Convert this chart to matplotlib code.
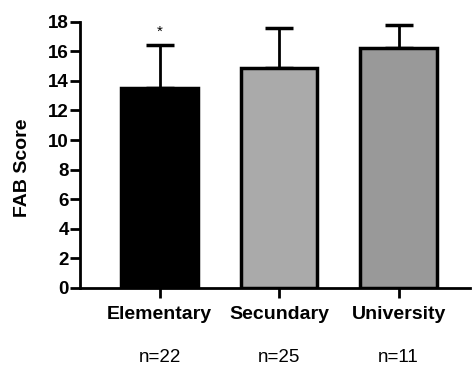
import matplotlib.pyplot as plt

groups = ["Elementary", "Secundary", "University"]
counts = [22, 25, 11]
means = [13.55, 14.9, 16.2]
sds = [2.9, 2.65, 1.55]
colors = ["#000000", "#aaaaaa", "#999999"]

plt.rcParams['font.family'] = ['Liberation Sans', 'DejaVu Sans']

fig = plt.figure(figsize=(4.76, 3.65), dpi=100)
ax = fig.add_axes([0.168, 0.211, 0.82, 0.7295])

x = list(range(len(groups)))
ax.bar(x, means, width=0.64, color=colors, edgecolor="black", linewidth=2.5, zorder=2)
ax.errorbar(x, means, yerr=[[0] * len(sds), sds], fmt="none", ecolor="black",
            elinewidth=2, capsize=10, capthick=2.5, zorder=1)

# significance marker over the first group
ax.text(0, means[0] + sds[0] + 0.4, "*", ha="center", va="bottom", fontsize=11)

ax.set_xlim(-0.667, 2.6)
ax.set_ylim(0, 18)
ax.set_yticks(range(0, 19, 2))
ax.set_xticks(x)
ax.set_xticklabels(groups, fontweight="bold", fontsize=14)

# group sizes under the category names
for xi, n in zip(x, counts):
    ax.annotate(f"n={n}", (xi, 0), xytext=(0, -50), textcoords="offset points",
                xycoords=("data", "axes fraction"), ha="center", va="center", fontsize=13.5)

for lab in ax.get_yticklabels():
    lab.set_fontweight("bold")
    lab.set_fontsize(13.5)
ax.set_ylabel("FAB Score", fontweight="bold", fontsize=14)
ax.yaxis.set_label_coords(-0.125, 0.45)

ax.spines["top"].set_visible(False)
ax.spines["right"].set_visible(False)
ax.spines["left"].set_linewidth(2)
ax.spines["bottom"].set_linewidth(2)
ax.tick_params(axis="both", width=2, length=7, pad=1)
ax.tick_params(axis="x", pad=6)

fig.savefig("out.png", dpi=100)
